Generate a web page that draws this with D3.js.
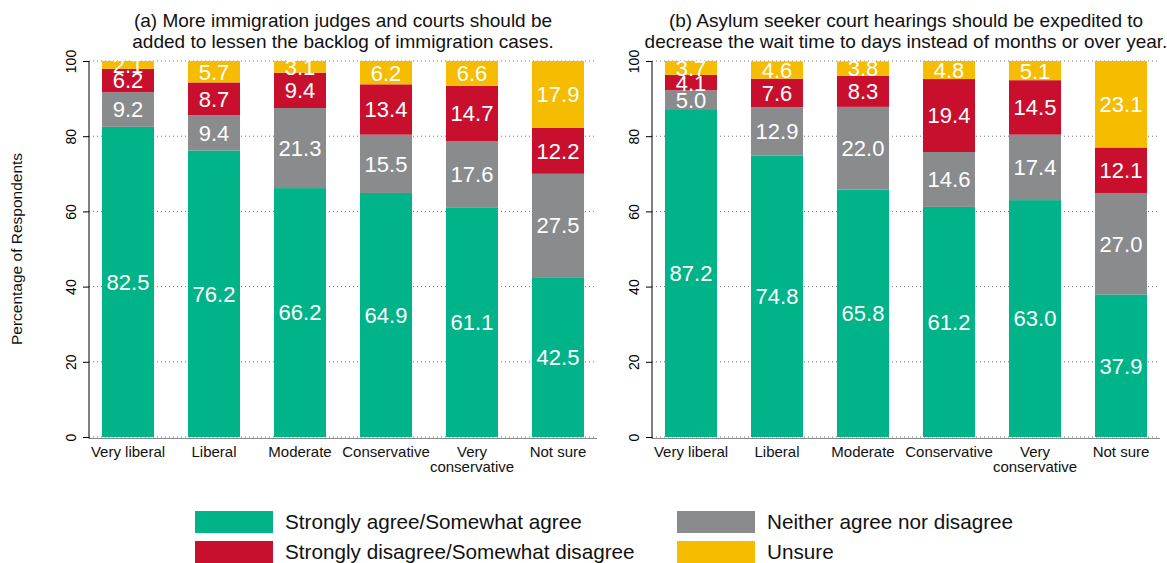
<!DOCTYPE html>
<html><head><meta charset="utf-8">
<script src="https://cdn.jsdelivr.net/npm/d3@7"></script>
<style>body{margin:0;background:#fff;} text{font-family:"Liberation Sans",Arial,sans-serif;}</style>
</head><body>
<svg id="chart" width="1167" height="563"></svg>
<script>
const categories = ["Very liberal","Liberal","Moderate","Conservative","Very conservative","Not sure"];
const categoryLines = [["Very liberal"],["Liberal"],["Moderate"],["Conservative"],["Very","conservative"],["Not sure"]];
const seriesNames = ["Strongly agree/Somewhat agree","Neither agree nor disagree","Strongly disagree/Somewhat disagree","Unsure"];
const seriesColors = ["#00B388","#898B8D","#C8102E","#F5BC00"];
// Panel (a)
const aAgree    = [82.5, 76.2, 66.2, 64.9, 61.1, 42.5];
const aNeither  = [9.2, 9.4, 21.3, 15.5, 17.6, 27.5];
const aDisagree = [6.2, 8.7, 9.4, 13.4, 14.7, 12.2];
const aUnsure   = [2.1, 5.7, 3.1, 6.2, 6.6, 17.9];
// Panel (b)
const bAgree    = [87.2, 74.8, 65.8, 61.2, 63.0, 37.9];
const bNeither  = [5.0, 12.9, 22.0, 14.6, 17.4, 27.0];
const bDisagree = [4.1, 7.6, 8.3, 19.4, 14.5, 12.1];
const bUnsure   = [3.7, 4.6, 3.8, 4.8, 5.1, 23.1];
const yTicks = [0,20,40,60,80,100];
const titles = [
  ["(a) More immigration judges and courts should be","added to lessen the backlog of immigration cases."],
  ["(b) Asylum seeker court hearings should be expedited to","decrease the wait time to days instead of months or over year."]
];

const svg = d3.select("#chart");
const panels = [
  {x0:89, x1:597, series:[aAgree,aNeither,aDisagree,aUnsure], title:titles[0]},
  {x0:652, x1:1160, series:[bAgree,bNeither,bDisagree,bUnsure], title:titles[1]}
];
const yTop = 61, yBot = 437;
const y = d3.scaleLinear().domain([0,100]).range([yBot,yTop]);

panels.forEach(p => {
  const g = svg.append("g");
  const x = d3.scaleBand().domain(categories).range([p.x0,p.x1]).paddingInner(0.395).paddingOuter(0.151);
  // grid
  g.selectAll(".grid").data(yTicks).join("line")
    .attr("x1",p.x0).attr("x2",p.x1).attr("y1",d=>y(d)).attr("y2",d=>y(d))
    .attr("stroke","#777").attr("stroke-width",1).attr("stroke-dasharray","1,3");
  // bottom axis line
  g.append("line").attr("x1",p.x0).attr("x2",p.x1).attr("y1",yBot+1.5).attr("y2",yBot+1.5)
    .attr("stroke","#888").attr("stroke-width",1);
  // stacks
  const rows = categories.map((c,i)=>{const o={cat:c}; seriesNames.forEach((s,k)=>o[s]=p.series[k][i]); return o;});
  const stack = d3.stack().keys(seriesNames)(rows);
  stack.forEach((layer,k)=>{
    const lg = g.append("g");
    lg.selectAll("rect").data(layer).join("rect")
      .attr("x",d=>x(d.data.cat)).attr("width",x.bandwidth())
      .attr("y",d=>y(Math.min(d[1],100))).attr("height",d=>y(d[0])-y(Math.min(d[1],100)))
      .attr("fill",seriesColors[k]);
  });
  stack.forEach((layer,k)=>{
    g.append("g").selectAll("text").data(layer).join("text")
      .attr("x",d=>x(d.data.cat)+x.bandwidth()/2)
      .attr("y",d=>(y(d[0])+y(Math.min(d[1],100)))/2)
      .attr("dy","0.36em").attr("text-anchor","middle")
      .attr("fill","#fff").attr("font-size",22)
      .text(d=>(d[1]-d[0]).toFixed(1));
  });
  // y axis
  const ax = g.append("g").attr("transform",`translate(${p.x0},0)`)
    .call(d3.axisLeft(y).tickValues(yTicks).tickSize(6).tickPadding(0).tickFormat(d3.format("d")));
  ax.select(".domain").attr("stroke","#000").attr("d",`M0,${yBot+1.5}V${yTop}`);
  ax.selectAll(".tick line").attr("stroke","#000");
  ax.selectAll(".tick text").attr("transform","rotate(-90)").attr("x",0).attr("y",-18.5)
    .attr("dy","0.36em").attr("text-anchor","middle").attr("font-size",14).attr("fill","#000")
    .attr("font-family",'"Liberation Sans",Arial,sans-serif');
  // x labels
  categories.forEach((c,i)=>{
    const t = g.append("text").attr("x",x(c)+x.bandwidth()/2).attr("y",457)
      .attr("text-anchor","middle").attr("font-size",15).attr("fill","#111");
    categoryLines[i].forEach((ln,j)=>t.append("tspan").attr("x",x(c)+x.bandwidth()/2).attr("dy",j?15:0).text(ln));
  });
  // title
  const cx = (p.x0+p.x1)/2;
  p.title.forEach((ln,j)=>g.append("text").attr("x",cx).attr("y",27+j*21)
    .attr("text-anchor","middle").attr("font-size",19).attr("fill","#111").text(ln));
});

// y label
svg.append("text").attr("transform","translate(22,249) rotate(-90)").attr("text-anchor","middle")
  .attr("font-size",15.5).attr("fill","#111").text("Percentage of Respondents");

// legend
const legPos = [[195,511],[677,511],[195,541],[677,541]];
const legendOrder = [0,1,2,3];
legendOrder.forEach((k,i)=>{
  const [lx,ly] = legPos[i];
  svg.append("rect").attr("x",lx).attr("y",ly).attr("width",78).attr("height",22).attr("fill",seriesColors[k]);
  svg.append("text").attr("x",lx+90).attr("y",ly+11).attr("dy","0.36em").attr("font-size",20.7)
    .attr("fill","#111").text(seriesNames[k]);
});
</script>
</body></html>
